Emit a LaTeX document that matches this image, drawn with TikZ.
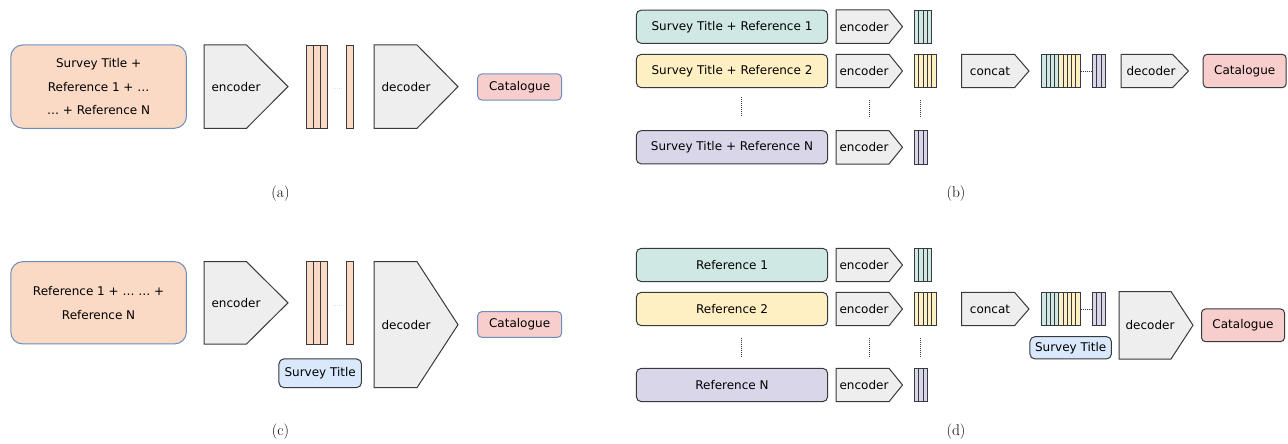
\documentclass[tikz,border=0pt]{standalone}
\usepackage{fontspec}
\newfontfamily\sketchfont{DejaVu Sans}
\definecolor{peach}{HTML}{FAD9C5}
\definecolor{lightteal}{HTML}{D0E8E3}
\definecolor{lightyellow}{HTML}{FFF0C4}
\definecolor{lightlilac}{HTML}{DAD6EA}
\definecolor{lightblue}{HTML}{DAE8FC}
\definecolor{lightred}{HTML}{F8CECC}
\definecolor{blockgray}{HTML}{EEEEEE}
\definecolor{edgegray}{HTML}{36393D}
\definecolor{edgeblue}{HTML}{6C8EBF}
\newcommand{\drawblock}[8]{
\draw[blockline] (#2, #3) -- (#5, #3) -- (#6, {(#3 + #4) / 2}) -- (#5, #4) -- (#2, #4) -- cycle;
\node[blocktext] (#1) at (#7, {(#3 + #4) / 2}) {#8};
}
\newcommand{\drawstripes}[6][4.35]{
\foreach \k in {1, ..., #5}
\draw[stripe, fill=#6] ({#2 + (\k - 1) * #1}, #3) rectangle +(#1, {#4 - #3});
}

\begin{document}
\begin{tikzpicture}[x=1pt, y=-1pt, font=\sketchfont\fontsize{12}{14}\selectfont,
blockline/.style={draw=edgegray, fill=blockgray, line width=1pt},
blocktext/.style={inner sep=0pt},
stripe/.style={draw=edgegray, line width=.9pt},
roundbox/.style={draw=edgegray, line width=1pt, rounded corners=5pt, inner sep=0pt},
bigbox/.style={roundbox, draw=edgeblue, fill=peach, rounded corners=12pt, minimum width=175.7pt, align=center, font=\sketchfont\fontsize{12}{23.5}\selectfont},
refbox/.style={roundbox, minimum width=191.4pt, minimum height=33.3pt},
catbox/.style={roundbox, fill=lightred, rounded corners=4pt, minimum width=83pt},
titlebox/.style={roundbox, fill=lightblue},
dots/.style={draw=edgegray, line width=.9pt, dash pattern=on 1pt off 1pt},
faintdots/.style={draw=edgeblue!25, line width=.9pt, dash pattern=on 1pt off 1pt},
caption/.style={font=\rmfamily\fontsize{15.5}{18}\selectfont}]
\useasboundingbox (0, 0) rectangle (1288, 444);

% (a)
\node[bigbox, minimum height=83.3pt] (inputA) at (98.6, 86.6) {Survey Title +\\Reference 1 + …\\… + Reference N};
\drawblock{encA}{204}{45}{128.3}{246.5}{288}{236}{encoder}
\drawstripes[7]{306.7}{45}{128.3}{3}{peach}
\drawstripes[7]{346.7}{45}{128.3}{1}{peach}
\draw[faintdots] (333, 88) -- (343, 88);
\drawblock{decA}{374}{45}{128.3}{417}{458}{406}{decoder}
\node[catbox, draw=edgeblue, minimum width=83.8pt, minimum height=26pt] (catA) at (519.6, 87) {Catalogue};
\node[caption] (capA) at (280.5, 194) {(a)};

% (b)
\node[refbox, fill=lightteal] (refB1) at (732, 26.7) {Survey Title + Reference 1};
\node[refbox, fill=lightyellow] (refB2) at (732, 71) {Survey Title + Reference 2};
\node[refbox, fill=lightlilac] (refBN) at (732, 147.3) {Survey Title + Reference N};
\drawblock{encB1}{836}{10}{43.3}{889}{902.5}{864}{encoder}
\drawblock{encB2}{836}{54.3}{87.7}{889}{902.5}{864}{encoder}
\drawblock{encBN}{836}{130.7}{164}{889}{902.5}{864}{encoder}
\drawstripes{914.3}{10}{43.3}{4}{lightteal}
\drawstripes{914.3}{54.3}{87.7}{5}{lightyellow}
\drawstripes{914.3}{130.7}{164}{3}{lightlilac}
\draw[dots] (741, 97) -- (741, 116) (869.7, 100) -- (869.7, 118) (920, 100) -- (920, 118);
\drawblock{concatB}{961.5}{54.3}{87.7}{1014.5}{1029}{990}{concat}
\drawstripes[4.26]{1041.7}{54.3}{87.7}{4}{lightteal}
\drawstripes[4.26]{1058.74}{54.3}{87.7}{5}{lightyellow}
\draw[dots] (1080.5, 71) -- (1092, 71);
\drawstripes[4.4]{1092.5}{54.3}{87.7}{3}{lightlilac}
\drawblock{decB}{1121}{54.3}{87.7}{1172.5}{1188.5}{1151}{decoder}
\node[catbox, minimum height=33.4pt] (catB) at (1244.7, 71) {Catalogue};
\node[caption] (capB) at (956, 194) {(b)};

% (c)
\node[bigbox, minimum height=82.3pt] (inputC) at (98.6, 302.8) {Reference 1 + … … +\\Reference N};
\drawblock{encC}{204}{261.7}{344}{246.5}{288}{236}{encoder}
\drawstripes[7]{306.7}{261.7}{344}{3}{peach}
\drawstripes[7]{346.7}{261.7}{344}{1}{peach}
\draw[faintdots] (333, 305) -- (343, 305);
\node[titlebox, minimum width=82.5pt, minimum height=28.7pt] (titleC) at (320.2, 373.3) {Survey Title};
\drawblock{decC}{374}{261.7}{387.7}{417}{458}{406}{decoder}
\node[catbox, draw=edgeblue, minimum width=83.8pt, minimum height=25.6pt] (catC) at (519.6, 324.5) {Catalogue};
\node[caption] (capC) at (280.5, 432) {(c)};

% (d)
\node[refbox, fill=lightteal] (refD1) at (732, 265) {Reference 1};
\node[refbox, fill=lightyellow] (refD2) at (732, 309) {Reference 2};
\node[refbox, fill=lightlilac] (refDN) at (732, 385) {Reference N};
\drawblock{encD1}{836}{248.3}{281.7}{889}{902.5}{864}{encoder}
\drawblock{encD2}{836}{292.3}{325.7}{889}{902.5}{864}{encoder}
\drawblock{encDN}{836}{368.3}{401.7}{889}{902.5}{864}{encoder}
\drawstripes{914.3}{248.3}{281.7}{4}{lightteal}
\drawstripes{914.3}{292.3}{325.7}{5}{lightyellow}
\drawstripes{914.3}{368.3}{401.7}{3}{lightlilac}
\draw[dots] (741, 337.5) -- (741, 356) (869.7, 338.3) -- (869.7, 356.7) (920, 338.3) -- (920, 356.7);
\drawblock{concatD}{961.5}{292.3}{325.7}{1014.5}{1029}{990}{concat}
\drawstripes[4.26]{1041.7}{292.3}{325.7}{4}{lightteal}
\drawstripes[4.26]{1058.74}{292.3}{325.7}{5}{lightyellow}
\draw[dots] (1080.5, 309) -- (1092, 309);
\drawstripes[4.4]{1092.5}{292.3}{325.7}{3}{lightlilac}
\node[titlebox, minimum width=81.5pt, minimum height=22.3pt] (titleD) at (1070.7, 347.8) {Survey Title};
\drawblock{decD}{1119}{291.5}{359}{1171}{1193}{1150}{decoder}
\node[catbox, minimum height=32.7pt] (catD) at (1243, 325.3) {Catalogue};
\node[caption] (capD) at (956, 432) {(d)};
\end{tikzpicture}
\end{document}
